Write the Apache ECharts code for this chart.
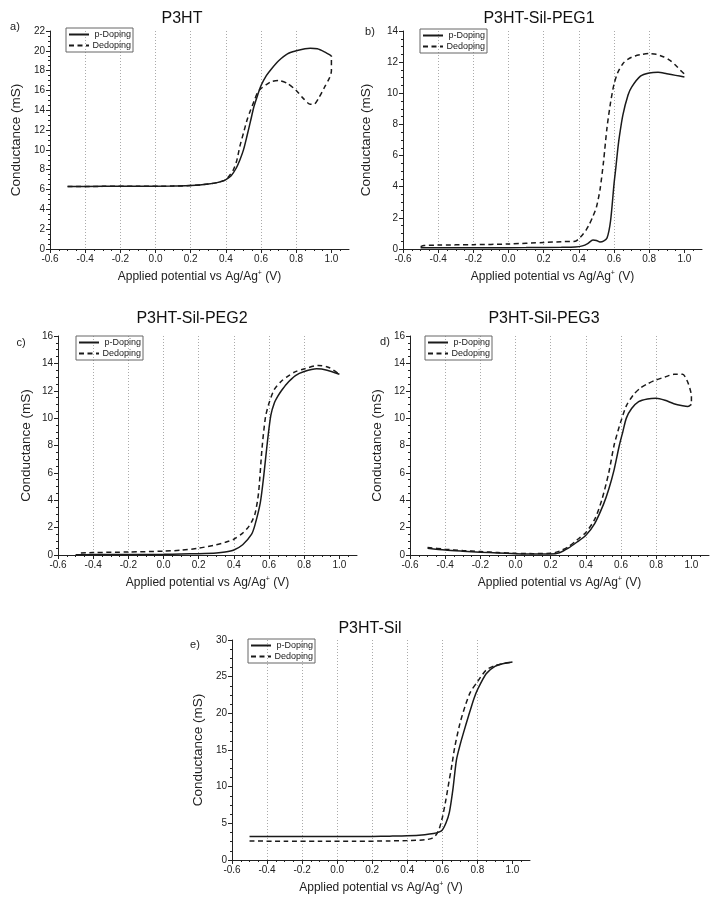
<!DOCTYPE html>
<html><head><meta charset="utf-8">
<script src="https://cdn.jsdelivr.net/npm/echarts@6/dist/echarts.min.js"></script>
<style>html,body{margin:0;padding:0;background:#fff}#c{width:714px;height:901px}</style>
</head><body><div id="c"></div>
<script>
// ---- labels ----
const panelTitles = ['P3HT', 'P3HT-Sil-PEG1', 'P3HT-Sil-PEG2', 'P3HT-Sil-PEG3', 'P3HT-Sil'];
const panelTags = ['a)', 'b)', 'c)', 'd)', 'e)'];
const seriesNames = ['p-Doping', 'Dedoping'];
const xTickValues = [-0.6, -0.4, -0.2, 0.0, 0.2, 0.4, 0.6, 0.8, 1.0];
const yMaxes = [22, 14, 16, 16, 30];
const ySteps = [2, 2, 2, 2, 5];

// ---- a) P3HT ----
const a_pX = [-0.5,-0.3,-0.1,0.1,0.2,0.25,0.3,0.35,0.38,0.4,0.43,0.46,0.48,0.5,0.52,0.54,0.56,0.58,0.6,0.63,0.66,0.7,0.75,0.8,0.85,0.88,0.92,0.96,1.0];
const a_pY = [6.3,6.32,6.33,6.35,6.4,6.45,6.55,6.7,6.85,7.0,7.4,8.2,9.0,10.0,11.4,12.9,14.4,15.5,16.5,17.5,18.2,19.0,19.7,20.0,20.2,20.25,20.2,19.9,19.5];
const a_dX = [-0.5,-0.3,-0.1,0.1,0.2,0.3,0.35,0.38,0.4,0.42,0.44,0.46,0.48,0.5,0.52,0.54,0.56,0.58,0.6,0.63,0.66,0.7,0.75,0.8,0.84,0.88,0.9,0.93,0.96,0.99,1.0,1.0];
const a_dY = [6.3,6.32,6.33,6.35,6.4,6.55,6.7,6.85,7.0,7.4,7.9,8.8,10.4,11.7,13.0,14.0,14.9,15.8,16.2,16.6,16.9,17.0,16.7,16.0,15.2,14.6,14.6,15.3,16.3,17.3,18.0,19.5];

// ---- b) P3HT-Sil-PEG1 ----
const b_pX = [-0.5,-0.3,-0.1,0.1,0.3,0.38,0.42,0.45,0.48,0.5,0.52,0.54,0.56,0.58,0.6,0.61,0.62,0.63,0.65,0.68,0.7,0.75,0.8,0.85,0.9,0.95,1.0];
const b_pY = [0.08,0.08,0.08,0.09,0.11,0.13,0.2,0.35,0.58,0.55,0.45,0.5,0.7,1.8,4.2,5.2,6.3,7.2,8.6,9.9,10.4,11.1,11.3,11.35,11.25,11.15,11.05];
const b_dX = [-0.5,-0.48,-0.4,-0.2,0.0,0.2,0.3,0.38,0.4,0.42,0.44,0.46,0.48,0.5,0.52,0.54,0.56,0.58,0.6,0.62,0.65,0.68,0.72,0.76,0.8,0.84,0.88,0.92,0.95,0.98,1.0,1.0];
const b_dY = [0.15,0.22,0.25,0.28,0.32,0.42,0.47,0.5,0.66,0.9,1.2,1.6,2.1,2.7,3.8,5.6,7.8,9.4,10.6,11.3,11.9,12.2,12.4,12.5,12.55,12.5,12.35,12.1,11.8,11.45,11.2,11.05];

// ---- c) P3HT-Sil-PEG2 ----
const c_pX = [-0.5,-0.4,-0.2,0.0,0.1,0.2,0.3,0.35,0.4,0.45,0.5,0.52,0.55,0.57,0.59,0.61,0.63,0.65,0.67,0.7,0.75,0.8,0.87,0.93,1.0];
const c_pY = [0.02,0.03,0.04,0.05,0.07,0.1,0.15,0.22,0.37,0.75,1.5,2.2,3.8,5.8,8.2,10.2,11.1,11.6,12.0,12.5,13.1,13.4,13.6,13.5,13.2];
const c_dX = [-0.47,-0.4,-0.2,0.0,0.1,0.2,0.3,0.35,0.4,0.45,0.48,0.5,0.52,0.54,0.56,0.58,0.6,0.63,0.67,0.7,0.75,0.8,0.88,0.94,1.0];
const c_dY = [0.15,0.18,0.22,0.28,0.35,0.5,0.75,0.92,1.15,1.6,2.0,2.4,3.0,4.5,7.8,10.1,11.1,12.1,12.7,13.0,13.4,13.6,13.85,13.7,13.2];

// ---- d) P3HT-Sil-PEG3 ----
const d_pX = [-0.5,-0.4,-0.3,-0.2,-0.1,0.0,0.1,0.2,0.25,0.3,0.35,0.4,0.45,0.5,0.53,0.56,0.59,0.61,0.63,0.66,0.7,0.75,0.8,0.85,0.9,0.95,0.98,1.0];
const d_pY = [0.5,0.37,0.28,0.2,0.15,0.1,0.07,0.07,0.17,0.5,0.95,1.45,2.3,3.7,4.8,6.2,8.0,9.0,10.0,10.7,11.2,11.4,11.45,11.3,11.05,10.9,10.85,11.0];
const d_dX = [-0.5,-0.4,-0.3,-0.2,-0.1,0.0,0.1,0.2,0.25,0.3,0.35,0.4,0.45,0.49,0.53,0.56,0.59,0.6,0.63,0.67,0.71,0.75,0.8,0.85,0.9,0.95,0.98,1.0,1.0];
const d_dY = [0.55,0.42,0.32,0.25,0.18,0.12,0.1,0.12,0.28,0.6,1.1,1.65,2.6,4.0,6.0,8.0,9.4,9.8,10.9,11.7,12.2,12.5,12.8,13.0,13.2,13.2,12.6,11.6,11.0];

// ---- e) P3HT-Sil ----
const e_pX = [-0.5,-0.3,-0.1,0.1,0.2,0.3,0.4,0.5,0.55,0.58,0.6,0.62,0.64,0.66,0.68,0.7,0.72,0.75,0.78,0.8,0.85,0.9,0.95,1.0];
const e_pY = [3.2,3.2,3.2,3.2,3.22,3.25,3.3,3.45,3.6,3.8,4.1,5.0,6.5,9.6,13.6,15.6,17.3,19.7,22.0,23.2,25.4,26.4,26.8,27.0];
const e_dX = [-0.5,-0.3,-0.1,0.1,0.3,0.4,0.5,0.54,0.56,0.58,0.6,0.62,0.64,0.65,0.67,0.7,0.73,0.76,0.8,0.85,0.9,0.95,1.0];
const e_dY = [2.6,2.55,2.55,2.55,2.6,2.65,2.75,2.95,3.3,4.1,5.8,8.2,11.0,12.3,15.3,18.6,21.0,22.9,24.3,25.9,26.5,26.8,27.0];

const pData = [[a_pX,a_pY],[b_pX,b_pY],[c_pX,c_pY],[d_pX,d_pY],[e_pX,e_pY]];
const dData = [[a_dX,a_dY],[b_dX,b_dY],[c_dX,c_dY],[d_dX,d_dY],[e_dX,e_dY]];

// ---- layout (pixels) ----
const grids = [
  {left: 50, top: 31, width: 299, height: 218},
  {left: 403, top: 31, width: 299, height: 218},
  {left: 58, top: 336, width: 299, height: 219},
  {left: 410, top: 336, width: 299, height: 219},
  {left: 232, top: 640, width: 298, height: 220}
];
const titlePos = [[177, 6], [534, 6], [187, 306], [539, 306], [365, 616]];
const tagPos = [[15, 27], [370, 32], [21, 343], [385, 342], [195, 645]];
const legendPos = [[66, 28], [420, 29], [76, 336], [425, 336], [248, 639]];
const yNameGap = [27, 30, 25, 26, 27];

const FONT = '"Liberation Sans", Arial, sans-serif';
const TXT = '#222';
const zip = (xs, ys) => xs.map((x, i) => [x, ys[i]]);

const option = {
  backgroundColor: '#fff',
  animation: false,
  textStyle: {fontFamily: FONT, color: TXT},
  title: panelTitles.map((t, i) => ({
    text: t, left: titlePos[i][0], top: titlePos[i][1], textAlign: 'center',
    textStyle: {fontFamily: FONT, fontSize: 16, fontWeight: 'normal', color: '#111'}
  })),
  graphic: panelTags.map((t, i) => ({
    type: 'text', x: tagPos[i][0], y: tagPos[i][1],
    style: {text: t, fontFamily: FONT, fontSize: 11, fill: TXT, align: 'center', verticalAlign: 'middle'}
  })),
  legend: legendPos.map(p => ({
    left: p[0], top: p[1], orient: 'vertical', data: seriesNames,
    itemWidth: 20, itemHeight: 8, itemGap: 2, padding: [2, 2, 2, 2],
    borderColor: '#666', borderWidth: 1, selectedMode: false,
    itemStyle: {opacity: 0, borderWidth: 0},
    formatter: n => '{r|' + n + '}',
    textStyle: {fontFamily: FONT, fontSize: 9, color: TXT, padding: [0, 0, 0, -3],
      rich: {r: {width: 40, align: 'right', fontSize: 9, fontFamily: FONT, color: TXT}}}
  })),
  grid: grids.map(g => Object.assign({containLabel: false}, g)),
  xAxis: grids.map((g, i) => ({
    type: 'value', gridIndex: i, min: -0.6, max: 1.1, interval: 0.2,
    name: 'Applied potential vs Ag/Ag{sup|+} (V)', nameLocation: 'middle', nameGap: 21,
    nameTextStyle: {fontFamily: FONT, fontSize: 12, color: TXT,
      rich: {sup: {fontSize: 7, fontFamily: FONT, color: TXT, padding: [0, 0, 7, 0]}}},
    axisLine: {show: true, onZero: false, lineStyle: {color: '#222', width: 1}},
    axisTick: {show: true, length: 4, lineStyle: {color: '#222'}, customValues: xTickValues},
    minorTick: {show: true, splitNumber: 4, length: 2, lineStyle: {color: '#222'}},
    axisLabel: {fontFamily: FONT, fontSize: 10, color: TXT, margin: 5, customValues: xTickValues,
      formatter: v => v.toFixed(1)},
    splitLine: {show: true, showMinLine: false, showMaxLine: false,
      lineStyle: {color: '#aaa', width: 1, type: [1, 2]}}
  })),
  yAxis: grids.map((g, i) => ({
    type: 'value', gridIndex: i, min: 0, max: yMaxes[i], interval: ySteps[i],
    name: 'Conductance (mS)', nameLocation: 'middle', nameGap: yNameGap[i],
    nameTextStyle: {fontFamily: FONT, fontSize: 13.5, color: TXT},
    axisLine: {show: true, onZero: false, lineStyle: {color: '#222', width: 1}},
    axisTick: {show: true, length: 4, lineStyle: {color: '#222'}},
    minorTick: {show: true, splitNumber: 4, length: 2, lineStyle: {color: '#222'}},
    axisLabel: {fontFamily: FONT, fontSize: 10, color: TXT, margin: 5},
    splitLine: {show: false}
  })),
  series: []
};

for (let i = 0; i < 5; i++) {
  option.series.push({
    name: seriesNames[0], type: 'line', xAxisIndex: i, yAxisIndex: i,
    data: zip(pData[i][0], pData[i][1]), showSymbol: false, symbol: 'none', smooth: 0.25,
    lineStyle: {color: '#1a1a1a', width: 1.5, type: 'solid'}, itemStyle: {color: '#1a1a1a'}
  });
  option.series.push({
    name: seriesNames[1], type: 'line', xAxisIndex: i, yAxisIndex: i,
    data: zip(dData[i][0], dData[i][1]), showSymbol: false, symbol: 'none', smooth: 0.25,
    lineStyle: {color: '#1a1a1a', width: 1.5, type: [5, 3.5]}, itemStyle: {color: '#1a1a1a'}
  });
}

const chart = echarts.init(document.getElementById('c'), null, {renderer: 'canvas'});
chart.setOption(option);
</script>
</body></html>
